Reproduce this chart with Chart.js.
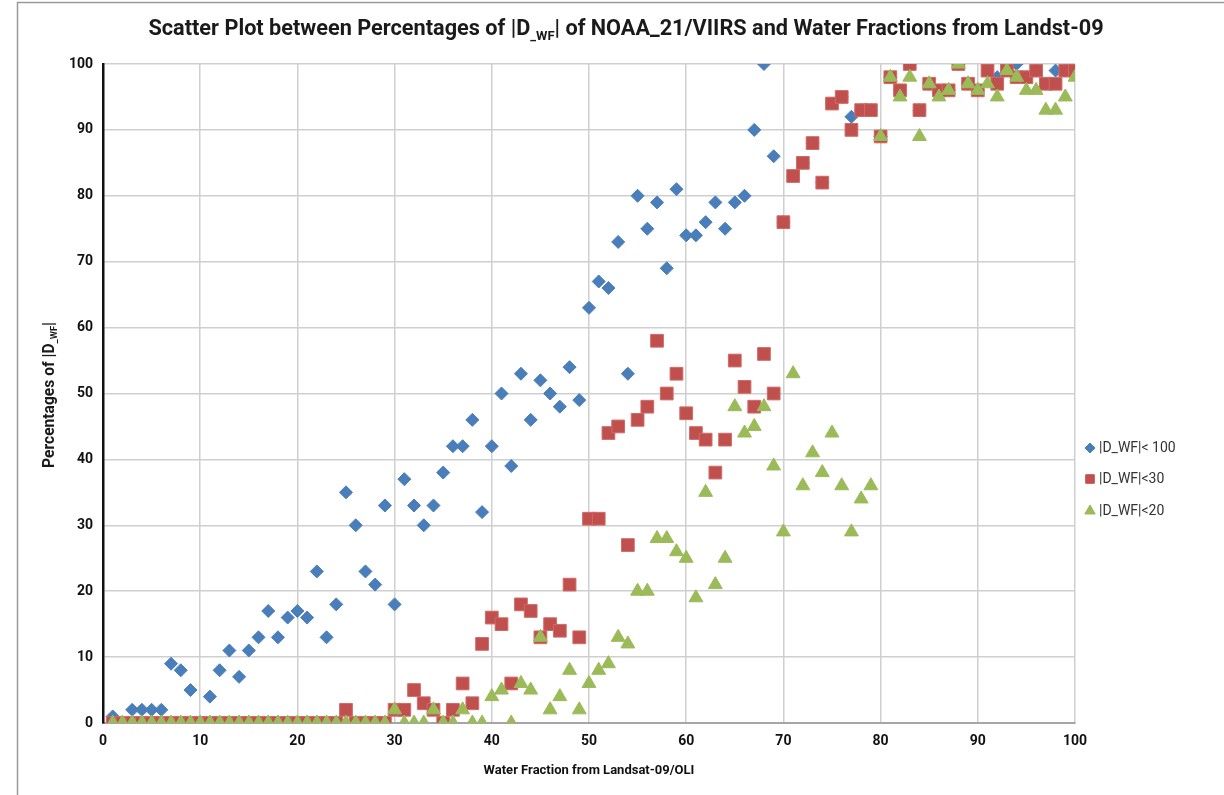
<!DOCTYPE html>
<html lang="en">

<head>
    <title>Scatter Plot D_WF</title>
    <script src="https://cdn.jsdelivr.net/npm/chart.js"></script>
    <style>
        body {
            margin: 0;
            background: #fff;
        }

        #wrap {
            width: 1224px;
            height: 795px;
        }
    </style>
</head>

<body>
    <div id="wrap"><canvas id="scatterChart" width="1224" height="795"></canvas></div>
    <script>
        // Water fraction from Landsat-09/OLI (x)
        const waterFraction = [1, 2, 3, 4, 5, 6, 7, 8, 9, 10, 11, 12, 13, 14, 15, 16, 17, 18, 19, 20,
            21, 22, 23, 24, 25, 26, 27, 28, 29, 30, 31, 32, 33, 34, 35, 36, 37, 38, 39, 40,
            41, 42, 43, 44, 45, 46, 47, 48, 49, 50, 51, 52, 53, 54, 55, 56, 57, 58, 59, 60,
            61, 62, 63, 64, 65, 66, 67, 68, 69, 70, 71, 72, 73, 74, 75, 76, 77, 78, 79, 80,
            81, 82, 83, 84, 85, 86, 87, 88, 89, 90, 91, 92, 93, 94, 95, 96, 97, 98, 99, 100];

        // percentages of |D_WF| < 100
        const pctLt100 = [1, 0, 2, 2, 2, 2, 9, 8, 5, 0, 4, 8, 11, 7, 11, 13, 17, 13, 16, 17,
            16, 23, 13, 18, 35, 30, 23, 21, 33, 18, 37, 33, 30, 33, 38, 42, 42, 46, 32, 42,
            50, 39, 53, 46, 52, 50, 48, 54, 49, 63, 67, 66, 73, 53, 80, 75, 79, 69, 81, 74,
            74, 76, 79, 75, 79, 80, 90, 100, 86, 76, 83, 85, 88, 82, 94, 95, 92, 93, 93, 89,
            98, 96, 100, 93, 97, 96, 96, 100, 97, 96, 100, 98, 100, 100, 98, 99, 97, 99, 99, 100];

        // percentages of |D_WF| < 30
        const pctLt30 = [0, 0, 0, 0, 0, 0, 0, 0, 0, 0, 0, 0, 0, 0, 0, 0, 0, 0, 0, 0,
            0, 0, 0, 0, 2, 0, 0, 0, 0, 2, 2, 5, 3, 2, 0, 2, 6, 3, 12, 16,
            15, 6, 18, 17, 13, 15, 14, 21, 13, 31, 31, 44, 45, 27, 46, 48, 58, 50, 53, 47,
            44, 43, 38, 43, 55, 51, 48, 56, 50, 76, 83, 85, 88, 82, 94, 95, 90, 93, 93, 89,
            98, 96, 100, 93, 97, 96, 96, 100, 97, 96, 99, 97, 99, 98, 98, 99, 97, 97, 99, 99];

        // percentages of |D_WF| < 20
        const pctLt20 = [0, 0, 0, 0, 0, 0, 0, 0, 0, 0, 0, 0, 0, 0, 0, 0, 0, 0, 0, 0,
            0, 0, 0, 0, 0, 0, 0, 0, 0, 2, 0, 0, 0, 2, 0, 0, 2, 0, 0, 4,
            5, 0, 6, 5, 13, 2, 4, 8, 2, 6, 8, 9, 13, 12, 20, 20, 28, 28, 26, 25,
            19, 35, 21, 25, 48, 44, 45, 48, 39, 29, 53, 36, 41, 38, 44, 36, 29, 34, 36, 89,
            98, 95, 98, 89, 97, 95, 96, 100, 97, 96, 97, 95, 99, 98, 96, 96, 93, 93, 95, 98];

        const seriesLabels = ['|D_WF|< 100', '|D_WF|<30', '|D_WF|<20'];
        const seriesColors = ['#4a7ebb', '#c0504d', '#9bbb59'];

        const FONT = '"Liberation Sans Narrow", "Roboto", sans-serif';

        function toPoints(values) {
            return waterFraction.map((x, i) => ({ x: x, y: values[i] }));
        }

        // draw text pieces (some as subscript), scaled so the whole line is `target` px wide
        function drawParts(ctx, parts, cx, cy, size, target) {
            const measure = sz => parts.map(p => {
                ctx.font = `bold ${p.sub ? sz * 0.6 : sz}px ${FONT}`;
                return ctx.measureText(p.t).width;
            });
            let widths = measure(size);
            let total = widths.reduce((a, b) => a + b, 0);
            if (target) {
                size = size * target / total;
                widths = measure(size);
                total = widths.reduce((a, b) => a + b, 0);
            }
            let x = cx - total / 2;
            parts.forEach((p, i) => {
                ctx.font = `bold ${p.sub ? size * 0.6 : size}px ${FONT}`;
                ctx.fillText(p.t, x, p.sub ? cy + size * 0.3 : cy);
                x += widths[i];
            });
        }

        const decorPlugin = {
            id: 'decor',
            beforeDraw(chart) {
                const ctx = chart.ctx;
                ctx.save();
                ctx.fillStyle = '#fff';
                ctx.fillRect(0, 0, chart.width, chart.height);
                ctx.strokeStyle = '#9a9a9a';
                ctx.lineWidth = 1.5;
                ctx.beginPath();
                ctx.moveTo(17.5, chart.height);
                ctx.lineTo(17.5, 2.5);
                ctx.lineTo(chart.width, 2.5);
                ctx.stroke();
                ctx.restore();
            },
            afterDraw(chart) {
                const ctx = chart.ctx;
                ctx.save();
                ctx.fillStyle = '#1a1a1a';
                ctx.textBaseline = 'middle';
                ctx.textAlign = 'left';

                // title
                drawParts(ctx, [
                    { t: 'Scatter Plot between Percentages of |D' },
                    { t: '_WF', sub: true },
                    { t: '| of NOAA_21/VIIRS and Water Fractions from Landst-09' }
                ], 626, 30, 19, 956);

                // y axis title
                ctx.save();
                ctx.translate(50, 395);
                ctx.rotate(-Math.PI / 2);
                drawParts(ctx, [
                    { t: 'Percentages of |D' },
                    { t: '_WF', sub: true },
                    { t: '|' }
                ], 0, 0, 13, 146);
                ctx.restore();

                // legend
                const lx = 1090;
                const ly = [448, 479, 511];
                const styles = ['rectRot', 'rect', 'triangle'];
                const radii = [5, 6, 6];
                ly.forEach((y, i) => {
                    ctx.fillStyle = seriesColors[i];
                    ctx.strokeStyle = seriesColors[i];
                    Chart.helpers.drawPoint(ctx, { pointStyle: styles[i], radius: radii[i], borderWidth: 1 }, lx, y);
                    ctx.fill();
                    ctx.fillStyle = '#333';
                    ctx.font = `14px ${FONT}`;
                    ctx.fillText(seriesLabels[i], lx + 9, y);
                });
                ctx.restore();
            }
        };

        new Chart(document.getElementById('scatterChart'), {
            type: 'scatter',
            data: {
                datasets: [
                    {
                        label: seriesLabels[0],
                        data: toPoints(pctLt100),
                        pointStyle: 'rectRot',
                        pointRadius: 6.5,
                        backgroundColor: seriesColors[0],
                        borderColor: seriesColors[0],
                        borderWidth: 1,
                        order: 3
                    },
                    {
                        label: seriesLabels[1],
                        data: toPoints(pctLt30),
                        pointStyle: 'rect',
                        pointRadius: 9,
                        backgroundColor: seriesColors[1],
                        borderColor: '#d06a67',
                        borderWidth: 1,
                        order: 2
                    },
                    {
                        label: seriesLabels[2],
                        data: toPoints(pctLt20),
                        pointStyle: 'triangle',
                        pointRadius: 8,
                        backgroundColor: seriesColors[2],
                        borderColor: seriesColors[2],
                        borderWidth: 1,
                        order: 1
                    }
                ]
            },
            options: {
                responsive: false,
                animation: false,
                layout: { padding: { top: 64, right: 149, left: 20, bottom: 16 } },
                plugins: {
                    legend: { display: false },
                    tooltip: { enabled: false }
                },
                scales: {
                    x: {
                        type: 'linear',
                        min: 0,
                        max: 100,
                        afterFit: s => { s.height = 56; },
                        border: { color: '#a6a6a6', width: 2 },
                        grid: { color: '#cfcfcf', lineWidth: 1.5, tickLength: 0 },
                        ticks: { stepSize: 10, color: '#111', padding: 10, font: { family: FONT, size: 14, weight: 'bold' } },
                        title: {
                            display: true,
                            text: 'Water Fraction from Landsat-09/OLI',
                            color: '#111',
                            font: { family: FONT, size: 13, weight: 'bold' },
                            padding: { top: 8, bottom: 0 }
                        }
                    },
                    y: {
                        min: 0,
                        max: 100,
                        afterFit: s => { s.width = 83; },
                        border: { color: '#111', width: 2.5 },
                        grid: { color: '#cfcfcf', lineWidth: 1.5, tickLength: 0 },
                        ticks: { stepSize: 10, color: '#111', padding: 10, font: { family: FONT, size: 14, weight: 'bold' } }
                    }
                }
            },
            plugins: [decorPlugin]
        });
    </script>
</body>

</html>
